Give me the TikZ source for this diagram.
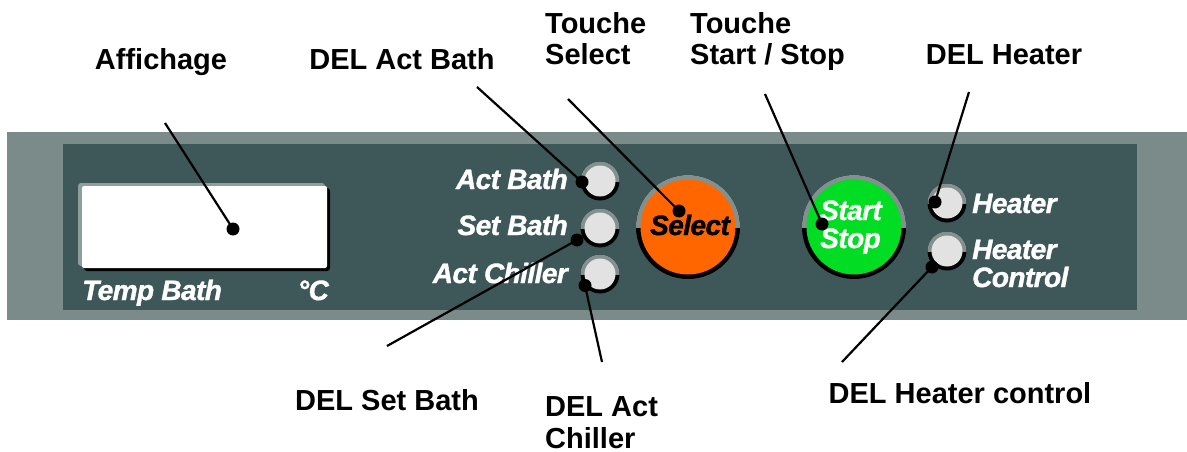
\documentclass[tikz,border=0pt]{standalone}
\usepackage{fontspec}
\setmainfont{Liberation Sans}
\newfontfamily\panelfont[FakeBold=1.3, LetterSpace=-2]{Liberation Sans Bold Italic}
\definecolor{outerpanel}{HTML}{7B8B89}
\definecolor{innerpanel}{HTML}{3E5859}
\definecolor{ringgray}{HTML}{82918F}
\definecolor{dispedge}{HTML}{8E9E9C}
\definecolor{ledfill}{HTML}{E2E2E2}
\definecolor{btnorange}{HTML}{FF6600}
\definecolor{btngreen}{HTML}{00DD22}
\tikzset{
  lbl/.style={font=\fontsize{29}{32}\selectfont\bfseries, inner sep=0pt, text=black},
  ptxt/.style={font=\fontsize{28}{28}\selectfont\panelfont, inner sep=0pt, text=white},
  dot/.style={circle, fill=black, inner sep=0pt, minimum size=13pt},
  leader/.style={line width=2.2pt, black},
  led/.pic={
    \fill[black] (0,0) circle[radius=19.5pt];
    \begin{scope}
      \clip (-22,-22) rectangle (22,0);
      \fill[ringgray] (0,0) circle[radius=19.5pt];
    \end{scope}
    \fill[ledfill] (0,0) circle[radius=15.5pt];
  },
  button/.pic={
    \fill[black] (0,0) circle[radius=52pt];
    \begin{scope}
      \clip (-55,-55) rectangle (55,0);
      \fill[ringgray] (0,0) circle[radius=52pt];
    \end{scope}
    \fill[#1] (0,0) circle[radius=47.5pt];
  }
}
\begin{document}
\begin{tikzpicture}[x=1pt,y=-1pt]
\useasboundingbox (0,0) rectangle (1187,452);
\fill[white] (0,0) rectangle (1187,452);
% panels
\fill[outerpanel] (7,132) rectangle (1187,320);
\fill[innerpanel] (63,144) rectangle (1137,310);
% display
\fill[dispedge, rounded corners=3pt] (78,183) rectangle (325,266);
\fill[black, rounded corners=3pt] (84,188) rectangle (330,271);
\fill[white, rounded corners=2pt] (82,186) rectangle (327,268);
\node[ptxt, anchor=base west] (t-temp) at (82,300) {Temp Bath};
\node[ptxt, anchor=base east] (t-degc) at (329,300) {°C};
% LEDs
\pic at (600,181) {led};
\pic at (600,228) {led};
\pic at (600,274) {led};
\pic at (947,203) {led};
\pic at (947,251) {led};
\node[ptxt, anchor=base east] (t-actbath) at (568,189) {Act Bath};
\node[ptxt, anchor=base east] (t-setbath) at (568,235) {Set Bath};
\node[ptxt, anchor=base east] (t-actchill) at (568,283) {Act Chiller};
\node[ptxt, anchor=base west] (t-heater) at (972,213) {Heater};
\node[ptxt, anchor=base west, align=left] (t-heatctl) at (972,287) {Heater\\Control};
% buttons
\pic at (688,227) {button=btnorange};
\pic at (854,227) {button=btngreen};
\node[ptxt, text=black, anchor=base] (t-select) at (690,235) {Select};
\node[ptxt, anchor=base west, align=left] (t-start) at (820,248) {Start\\Stop};
% dots
\node[dot] (d-aff) at (233,229) {};
\node[dot] (d-actbath) at (582,182) {};
\node[dot] (d-setbath) at (577,240) {};
\node[dot] (d-actchill) at (585,285.5) {};
\node[dot] (d-select) at (679,211) {};
\node[dot] (d-start) at (822,224) {};
\node[dot] (d-heater) at (935,202) {};
\node[dot] (d-heatctl) at (932,267) {};
% leader free ends
\coordinate (e-aff) at (165,123);
\coordinate (e-actbath) at (477,87);
\coordinate (e-select) at (568,99);
\coordinate (e-start) at (765,94);
\coordinate (e-heater) at (969,92);
\coordinate (e-setbath) at (387,346);
\coordinate (e-actchill) at (602,362);
\coordinate (e-heatctl) at (842,362);
% leaders
\draw[leader] (e-aff) -- (d-aff.center);
\draw[leader] (e-actbath) -- (d-actbath.center);
\draw[leader] (e-select) -- (d-select.center);
\draw[leader] (e-start) -- (d-start.center);
\draw[leader] (e-heater) -- (d-heater.center);
\draw[leader] (e-setbath) -- (d-setbath.center);
\draw[leader] (e-actchill) -- (d-actchill.center);
\draw[leader] (e-heatctl) -- (d-heatctl.center);
% labels
\node[lbl, anchor=base] (l-aff) at (161,70) {Affichage};
\node[lbl, anchor=base] (l-actbath) at (402,70) {DEL Act Bath};
\node[lbl, anchor=base west, align=left] (l-select) at (545,65) {Touche\\Select};
\node[lbl, anchor=base west, align=left] (l-start) at (690,65) {Touche\\Start / Stop};
\node[lbl, anchor=base] (l-heater) at (1004,65) {DEL Heater};
\node[lbl, anchor=base] (l-setbath) at (387,410) {DEL Set Bath};
\node[lbl, anchor=base west, align=left] (l-actchill) at (545,448) {DEL Act\\Chiller};
\node[lbl, anchor=base] (l-heatctl) at (960,403) {DEL Heater control};
\end{tikzpicture}
\end{document}
